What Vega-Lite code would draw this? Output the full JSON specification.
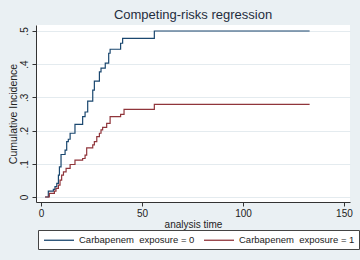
{
  "$schema": "https://vega.github.io/schema/vega-lite/v6.json",
  "width": 314,
  "height": 177,
  "autosize": {"type": "none"},
  "padding": {"left": 36, "top": 25, "right": 10, "bottom": 58},
  "background": "#EAF0F3",
  "view": {"fill": "white", "stroke": null},
  "config": {"font": "Liberation Sans"},
  "title": {"text": "Competing-risks regression", "fontSize": 13, "fontWeight": "normal", "color": "#1F2D3D", "anchor": "middle", "offset": 3},
  "data": {"values": [
    {"t": 2.0, "y": 0, "g": "Carbapenem  exposure = 0"},
    {"t": 3.6, "y": 0.018, "g": "Carbapenem  exposure = 0"},
    {"t": 6.1, "y": 0.023, "g": "Carbapenem  exposure = 0"},
    {"t": 6.9, "y": 0.031, "g": "Carbapenem  exposure = 0"},
    {"t": 7.8, "y": 0.041, "g": "Carbapenem  exposure = 0"},
    {"t": 8.6, "y": 0.066, "g": "Carbapenem  exposure = 0"},
    {"t": 9.1, "y": 0.091, "g": "Carbapenem  exposure = 0"},
    {"t": 9.9, "y": 0.128, "g": "Carbapenem  exposure = 0"},
    {"t": 11.9, "y": 0.141, "g": "Carbapenem  exposure = 0"},
    {"t": 12.7, "y": 0.167, "g": "Carbapenem  exposure = 0"},
    {"t": 13.5, "y": 0.174, "g": "Carbapenem  exposure = 0"},
    {"t": 14.4, "y": 0.192, "g": "Carbapenem  exposure = 0"},
    {"t": 16.8, "y": 0.219, "g": "Carbapenem  exposure = 0"},
    {"t": 20.6, "y": 0.242, "g": "Carbapenem  exposure = 0"},
    {"t": 21.8, "y": 0.256, "g": "Carbapenem  exposure = 0"},
    {"t": 23.1, "y": 0.289, "g": "Carbapenem  exposure = 0"},
    {"t": 25.6, "y": 0.322, "g": "Carbapenem  exposure = 0"},
    {"t": 26.4, "y": 0.349, "g": "Carbapenem  exposure = 0"},
    {"t": 28.9, "y": 0.377, "g": "Carbapenem  exposure = 0"},
    {"t": 29.7, "y": 0.388, "g": "Carbapenem  exposure = 0"},
    {"t": 31.8, "y": 0.403, "g": "Carbapenem  exposure = 0"},
    {"t": 33.5, "y": 0.433, "g": "Carbapenem  exposure = 0"},
    {"t": 34.2, "y": 0.445, "g": "Carbapenem  exposure = 0"},
    {"t": 39.4, "y": 0.463, "g": "Carbapenem  exposure = 0"},
    {"t": 40.4, "y": 0.478, "g": "Carbapenem  exposure = 0"},
    {"t": 56.1, "y": 0.5, "g": "Carbapenem  exposure = 0"},
    {"t": 133, "y": 0.5, "g": "Carbapenem  exposure = 0"},
    {"t": 2.0, "y": 0, "g": "Carbapenem  exposure = 1"},
    {"t": 4.1, "y": 0.011, "g": "Carbapenem  exposure = 1"},
    {"t": 6.6, "y": 0.018, "g": "Carbapenem  exposure = 1"},
    {"t": 7.4, "y": 0.026, "g": "Carbapenem  exposure = 1"},
    {"t": 8.6, "y": 0.036, "g": "Carbapenem  exposure = 1"},
    {"t": 9.4, "y": 0.051, "g": "Carbapenem  exposure = 1"},
    {"t": 10.2, "y": 0.066, "g": "Carbapenem  exposure = 1"},
    {"t": 11.1, "y": 0.076, "g": "Carbapenem  exposure = 1"},
    {"t": 12.4, "y": 0.086, "g": "Carbapenem  exposure = 1"},
    {"t": 14.4, "y": 0.098, "g": "Carbapenem  exposure = 1"},
    {"t": 16.8, "y": 0.111, "g": "Carbapenem  exposure = 1"},
    {"t": 20.6, "y": 0.116, "g": "Carbapenem  exposure = 1"},
    {"t": 21.8, "y": 0.126, "g": "Carbapenem  exposure = 1"},
    {"t": 22.6, "y": 0.148, "g": "Carbapenem  exposure = 1"},
    {"t": 25.6, "y": 0.157, "g": "Carbapenem  exposure = 1"},
    {"t": 26.4, "y": 0.167, "g": "Carbapenem  exposure = 1"},
    {"t": 27.6, "y": 0.182, "g": "Carbapenem  exposure = 1"},
    {"t": 28.9, "y": 0.192, "g": "Carbapenem  exposure = 1"},
    {"t": 29.7, "y": 0.202, "g": "Carbapenem  exposure = 1"},
    {"t": 30.5, "y": 0.21, "g": "Carbapenem  exposure = 1"},
    {"t": 32.5, "y": 0.222, "g": "Carbapenem  exposure = 1"},
    {"t": 34.2, "y": 0.242, "g": "Carbapenem  exposure = 1"},
    {"t": 39.4, "y": 0.249, "g": "Carbapenem  exposure = 1"},
    {"t": 41.1, "y": 0.264, "g": "Carbapenem  exposure = 1"},
    {"t": 56.1, "y": 0.279, "g": "Carbapenem  exposure = 1"},
    {"t": 133, "y": 0.279, "g": "Carbapenem  exposure = 1"}
  ]},
  "mark": {"type": "line", "interpolate": "step-after", "strokeWidth": 1.2},
  "encoding": {
    "x": {"field": "t", "type": "quantitative",
      "scale": {"domain": [-2.5, 153], "nice": false, "zero": false},
      "axis": {"values": [0, 50, 100, 150], "title": "analysis time", "grid": false,
        "domainColor": "#333", "tickColor": "#333", "tickSize": 4, "labelPadding": 2,
        "labelFontSize": 10, "labelColor": "#222", "titleFontSize": 10, "titleFontWeight": "normal", "titleColor": "#222", "titlePadding": 1}},
    "y": {"field": "y", "type": "quantitative",
      "scale": {"domain": [-0.015, 0.518], "nice": false, "zero": false},
      "axis": {"values": [0, 0.1, 0.2, 0.3, 0.4, 0.5], "title": "Cumulative Incidence",
        "labelExpr": "datum.value == 0 ? '0' : replace(format(datum.value, '.1f'), '0.', '.')",
        "labelAngle": -90, "labelAlign": "center", "labelBaseline": "bottom",
        "grid": true, "gridColor": "#E4EBEF", "gridWidth": 1,
        "domainColor": "#333", "tickColor": "#333", "tickSize": 4, "labelPadding": 3,
        "labelFontSize": 10, "labelColor": "#222", "titleFontSize": 10.5, "titleFontWeight": "normal", "titleColor": "#222", "titlePadding": 1}},
    "color": {"field": "g", "type": "nominal",
      "scale": {"range": ["#1A476F", "#90353B"]},
      "legend": {"title": null, "orient": "none", "legendX": 2, "legendY": 205, "direction": "horizontal",
        "fillColor": "white", "strokeColor": "#444", "padding": 4,
        "symbolType": "M-3,0H3", "symbolSize": 100, "symbolStrokeWidth": 1.3, "symbolOffset": 11,
        "labelFontSize": 9.5, "labelColor": "#222", "columnPadding": 6, "labelOffset": 14,
        "labelExpr": "replace(datum.label, '  ', '\u00a0 ')"}}
  }
}
